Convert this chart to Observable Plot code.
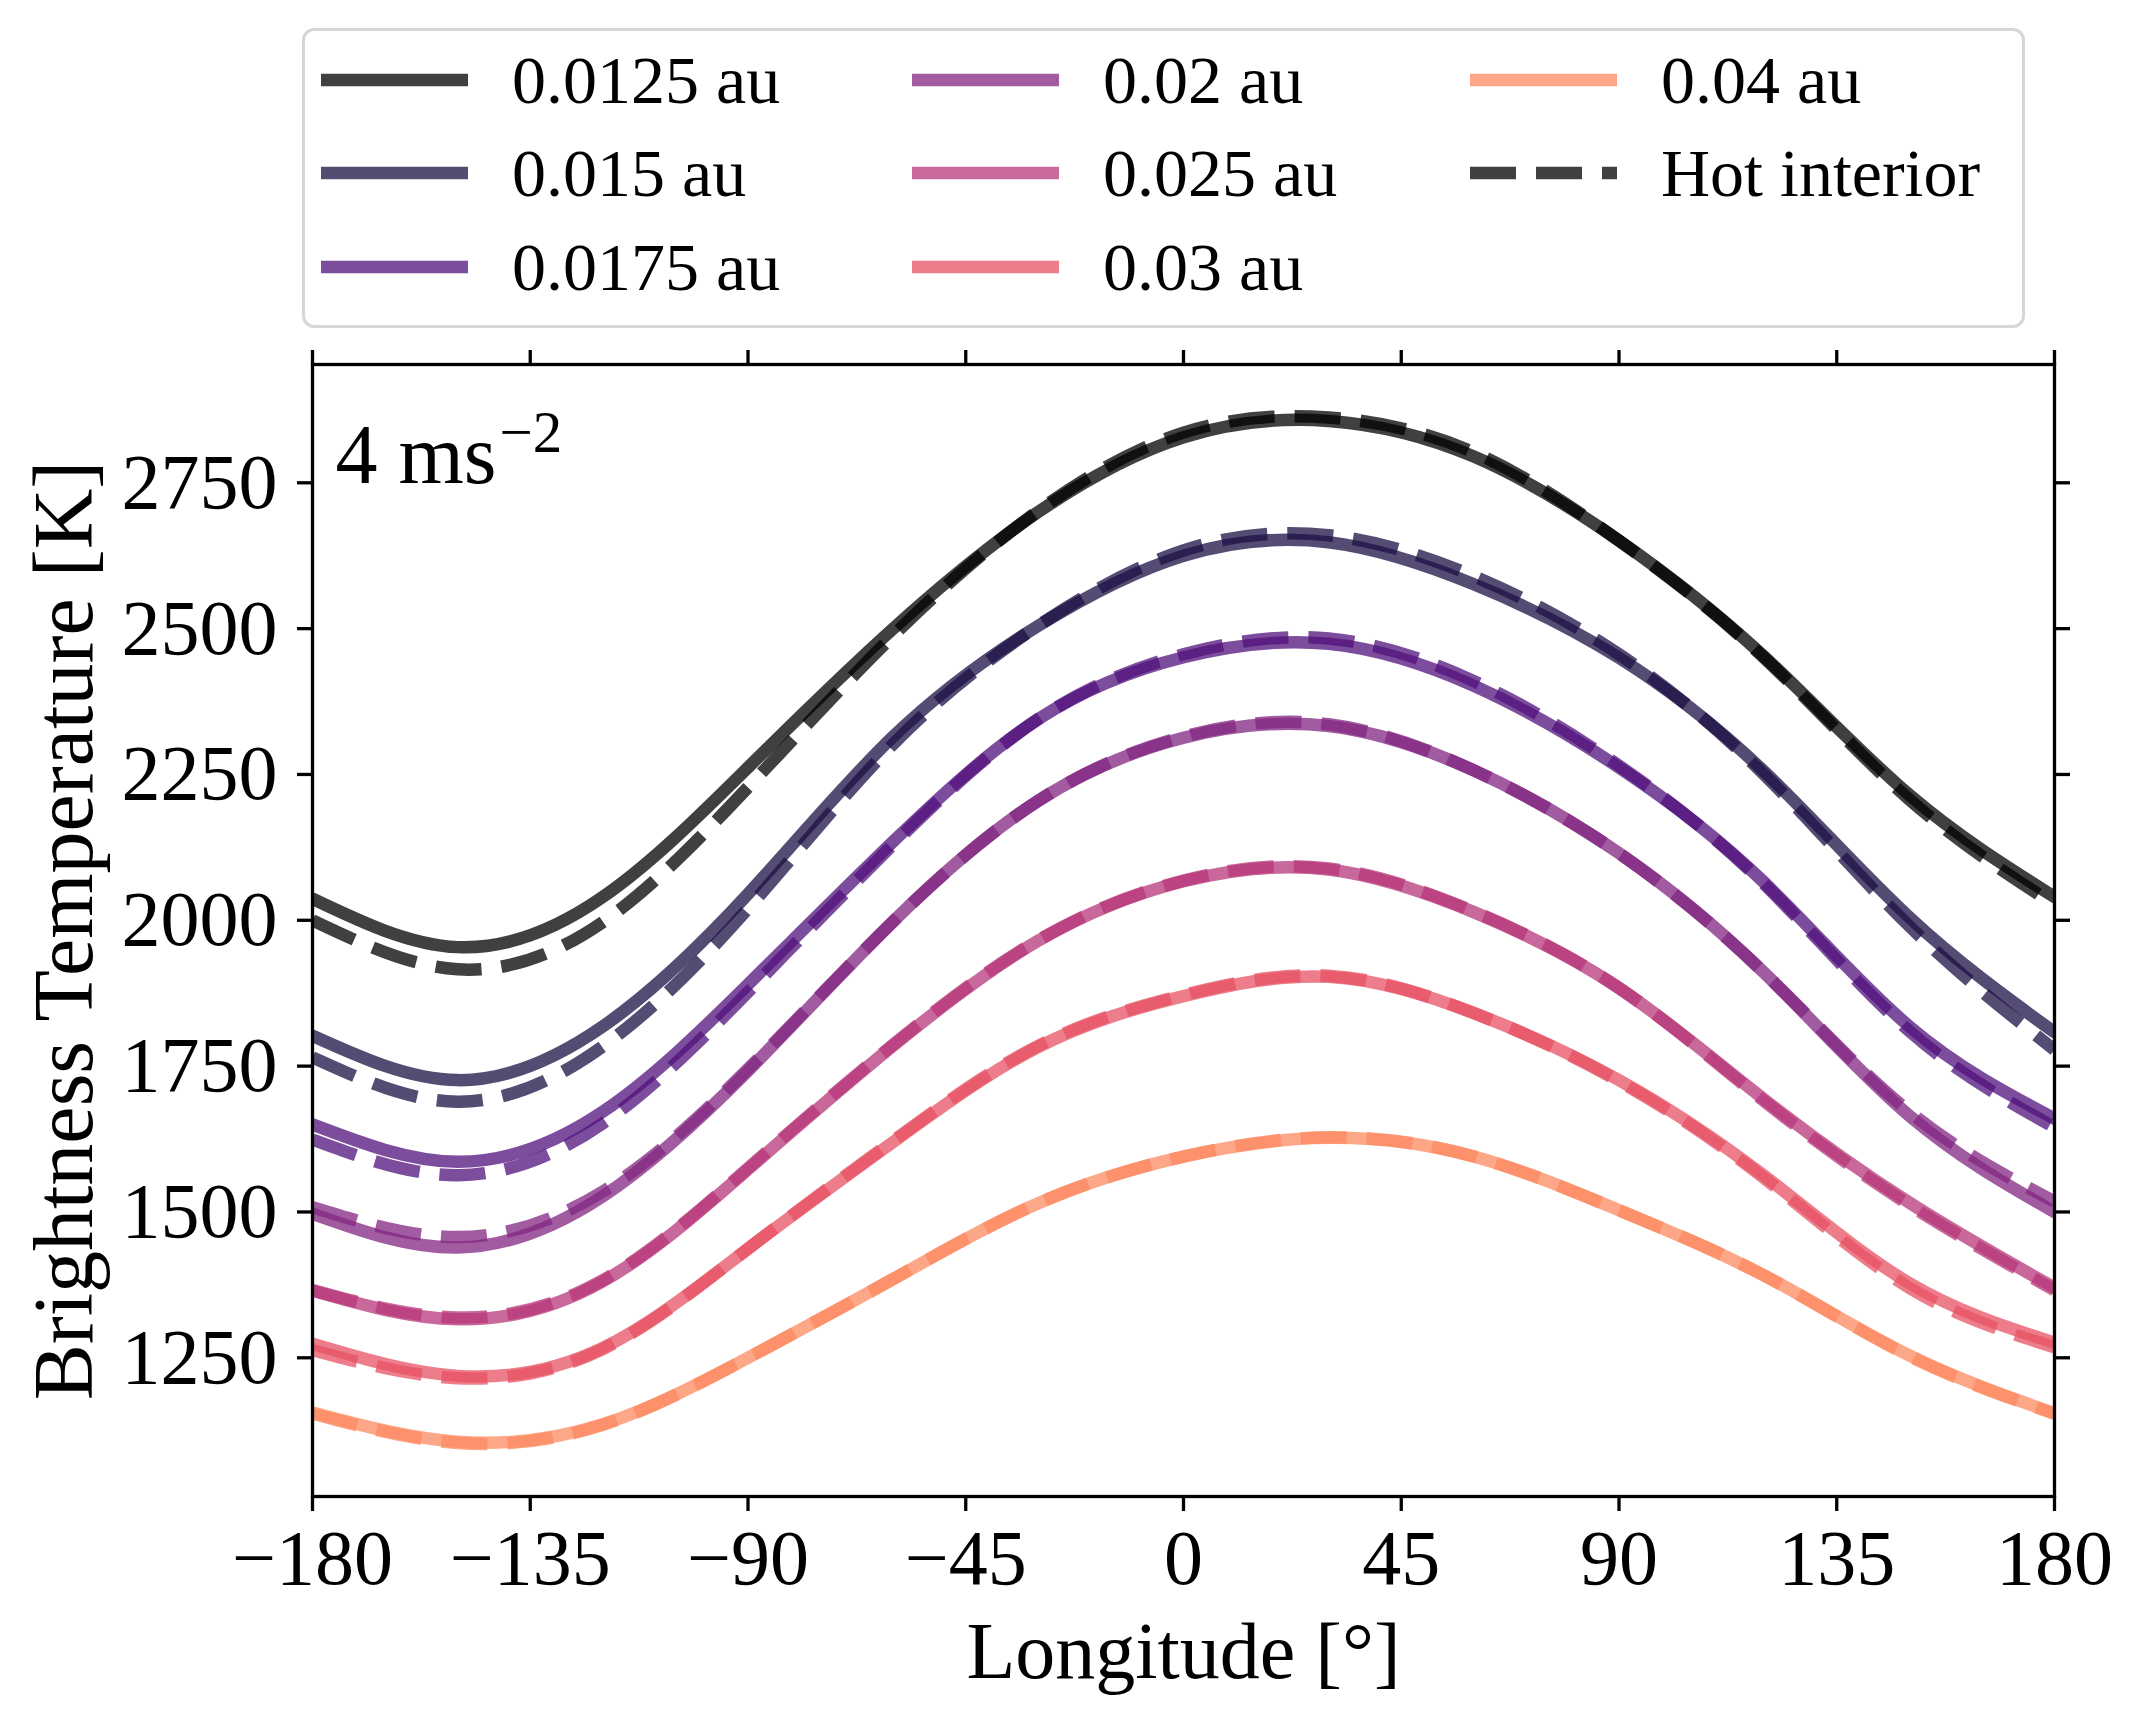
<!DOCTYPE html>
<html><head><meta charset="utf-8">
<script src="https://cdn.jsdelivr.net/npm/d3@7"></script>
<script src="https://cdn.jsdelivr.net/npm/@observablehq/plot@0.6"></script>
<style>
body{margin:0;background:#fff;}
#wrap{width:2141px;font-family:"Liberation Serif",serif;}
#legendArea{position:relative;width:2141px;height:340px;}
#legend{position:absolute;left:302px;top:28px;width:1717px;height:294px;border:3px solid #d6d6d6;border-radius:12px;background:#fff;}
.item{position:absolute;display:flex;align-items:center;height:80px;}
.item span{font-size:68px;line-height:1;white-space:nowrap;margin-left:44px;color:#000;}
.item svg{display:block}
</style></head><body>
<div id="wrap"><div id="legendArea"><div id="legend"></div></div><div id="chart"></div></div>
<script>
// ---- data ----
const longitude = [-180, -150, -120, -90, -60, -30, 0, 30, 60, 90, 120, 150, 180];
const distances = ["0.0125 au", "0.015 au", "0.0175 au", "0.02 au", "0.025 au", "0.03 au", "0.04 au"];
const colors = ["#000000", "#1c1044", "#51127c", "#822681", "#b73779", "#e75263", "#fc8961"];
const hotLabel = "Hot interior";

// standard model (solid)
const t0125 = [2037, 1954, 2040, 2262, 2500, 2700, 2828, 2856, 2795, 2651, 2452, 2215, 2040];
const t015  = [1802, 1726, 1818, 2045, 2315, 2505, 2625, 2648, 2576, 2450, 2255, 2005, 1808];
const t0175 = [1650, 1586, 1672, 1890, 2135, 2345, 2451, 2474, 2402, 2262, 2065, 1818, 1660];
const t02   = [1497, 1439, 1527, 1742, 1998, 2205, 2313, 2333, 2257, 2115, 1910, 1665, 1500];
const t025  = [1365, 1316, 1381, 1573, 1785, 1965, 2067, 2087, 2014, 1884, 1693, 1516, 1370];
const t03   = [1274, 1219, 1267, 1437, 1620, 1783, 1870, 1903, 1841, 1726, 1562, 1378, 1276];
const t04   = [1156, 1106, 1136, 1250, 1385, 1515, 1595, 1627, 1595, 1503, 1391, 1254, 1155];

// hot interior (dashed)
const h0125 = [2000, 1916, 1997, 2228, 2488, 2702, 2836, 2862, 2802, 2651, 2450, 2207, 2027];
const h015  = [1765, 1689, 1784, 2020, 2302, 2505, 2634, 2660, 2590, 2456, 2250, 1990, 1778];
const h0175 = [1624, 1563, 1652, 1877, 2130, 2345, 2456, 2483, 2410, 2265, 2062, 1810, 1645];
const h02   = [1508, 1457, 1535, 1745, 1998, 2205, 2315, 2336, 2257, 2115, 1910, 1672, 1518];
const h025  = [1366, 1319, 1383, 1575, 1787, 1966, 2068, 2089, 2015, 1884, 1690, 1512, 1366];
const h03   = [1263, 1215, 1265, 1437, 1622, 1785, 1872, 1905, 1841, 1724, 1558, 1370, 1268];
const h04   = [1154, 1104, 1135, 1250, 1385, 1515, 1595, 1628, 1595, 1503, 1391, 1253, 1154];

const xTicks = [-180, -135, -90, -45, 0, 45, 90, 135, 180];
const yTicks = [1250, 1500, 1750, 2000, 2250, 2500, 2750];
const xLabel = "Longitude [°]";
const yLabel = "Brightness Temperature [K]";
const annotMain = "4 ms";
const annotSup = "−2";

const solidSets = [t0125, t015, t0175, t02, t025, t03, t04];
const hotSets = [h0125, h015, h0175, h02, h025, h03, h04];

// ---- legend (HTML, above the SVG) ----
const legendItems = distances.map((d, k) => ({label: d, color: colors[k], dash: null}))
  .concat([{label: hotLabel, color: colors[0], dash: "46,20"}]);
const colLeft = [16, 607, 1165];
const rowCenter = [49, 142, 236];
const legend = document.getElementById("legend");
legendItems.forEach((it, i) => {
  const col = Math.floor(i / 3), row = i % 3;
  const div = document.createElement("div");
  div.className = "item";
  div.style.left = colLeft[col] + "px";
  div.style.top = (rowCenter[row] - 40) + "px";
  div.innerHTML = `<svg width="147" height="20"><line x1="0" x2="147" y1="10" y2="10" stroke="${it.color}" stroke-opacity="0.75" stroke-width="12.5" ${it.dash ? `stroke-dasharray="${it.dash}"` : ""}/></svg><span>${it.label}</span>`;
  legend.appendChild(div);
});

// ---- chart ----
const fmt = d => (d < 0 ? "\u2212" + Math.abs(d) : String(d));
const lineMarks = [];
distances.forEach((d, k) => {
  const solidRows = longitude.map((lon, i) => ({lon, T: solidSets[k][i]}));
  const hotRows = longitude.map((lon, i) => ({lon, T: hotSets[k][i]}));
  lineMarks.push(Plot.line(solidRows, {x: "lon", y: "T", stroke: colors[k], strokeOpacity: 0.75, strokeWidth: 12.5, curve: "natural", clip: true}));
  lineMarks.push(Plot.line(hotRows, {x: "lon", y: "T", stroke: colors[k], strokeOpacity: 0.75, strokeWidth: 12.5, strokeDasharray: "46,20", strokeLinecap: "butt", curve: "natural", clip: true}));
});

const chart = Plot.plot({
  width: 2141,
  height: 1389,
  marginLeft: 312,
  marginRight: 87,
  marginTop: 24,
  marginBottom: 233,
  style: {fontFamily: "Liberation Serif, serif", fontSize: "78px", background: "white", color: "black", overflow: "visible"},
  x: {domain: [-180, 180]},
  y: {domain: [1012.2, 2952.8]},
  marks: [
    ...lineMarks,
    Plot.frame({stroke: "black", strokeWidth: 3.3}),
    Plot.axisX({anchor: "bottom", ticks: xTicks, tickSize: 15, tickPadding: 17, fontSize: 78, strokeWidth: 3.3, tickFormat: fmt, label: null}),
    Plot.axisX({anchor: "top", ticks: xTicks, tickSize: 15, strokeWidth: 3.3, tickFormat: () => "", label: null}),
    Plot.axisY({anchor: "left", ticks: yTicks, tickSize: 15, tickPadding: 20, fontSize: 78, strokeWidth: 3.3, tickFormat: d => String(d), label: null}),
    Plot.axisY({anchor: "right", ticks: yTicks, tickSize: 15, strokeWidth: 3.3, tickFormat: () => "", label: null}),
    Plot.text([yLabel], {text: d => d, frameAnchor: "left", rotate: -90, dx: -247, fontSize: 84, textAnchor: "middle", lineAnchor: "middle"}),
    Plot.text([xLabel], {text: d => d, frameAnchor: "bottom", dy: 156, fontSize: 80, textAnchor: "middle", lineAnchor: "middle"}),
    Plot.text([annotMain], {text: d => d, frameAnchor: "top-left", dx: 23, dy: 59, fontSize: 84, textAnchor: "start", lineAnchor: "top"}),
    Plot.text([annotSup], {text: d => d, frameAnchor: "top-left", dx: 187, dy: 46, fontSize: 59, textAnchor: "start", lineAnchor: "top"})
  ]
});
document.getElementById("chart").appendChild(chart);
</script>
</body></html>
